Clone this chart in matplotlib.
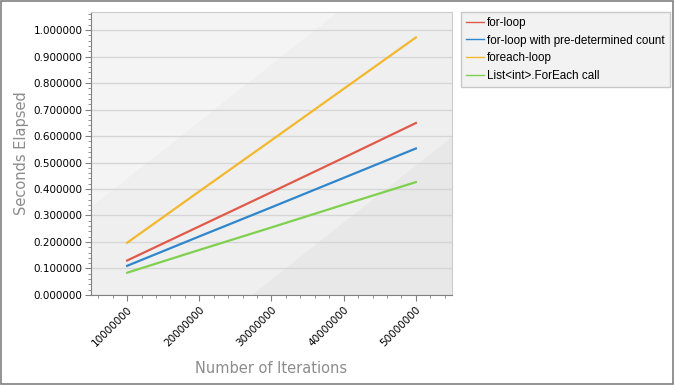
import numpy as np
import matplotlib.pyplot as plt
from matplotlib.ticker import MultipleLocator, FormatStrFormatter
from matplotlib.patches import Polygon, Rectangle

iterations = [10000000, 20000000, 30000000, 40000000, 50000000]
for_loop = [0.130, 0.259, 0.388, 0.518, 0.649]
for_loop_count = [0.110, 0.221, 0.331, 0.442, 0.553]
foreach_loop = [0.197, 0.391, 0.584, 0.778, 0.972]
list_foreach = [0.084, 0.170, 0.255, 0.341, 0.426]

series = [
    ('for-loop', for_loop, '#e05a4a'),
    ('for-loop with pre-determined count', for_loop_count, '#2f86cc'),
    ('foreach-loop', foreach_loop, '#f3b82e'),
    ('List<int>.ForEach call', list_foreach, '#7fd04f'),
]

plt.rcParams['font.family'] = ['DejaVu Sans']

fig = plt.figure(figsize=(6.75, 3.85), dpi=100)
fig.patch.set_facecolor('white')
# rahmen um das ganze bild
fig.patches.append(Rectangle((0.001, 0.002), 0.996, 0.995, transform=fig.transFigure,
                             fill=False, edgecolor='#808080', linewidth=1.2))

ax = fig.add_axes([0.1348, 0.2338, 0.5348, 0.735])
ax.set_facecolor('#efefef')

# hintergrund: hellere / dunklere diagonale flaechen
ax.add_patch(Polygon([(0, 1), (0, 0.31), (0.684, 1)], closed=True, transform=ax.transAxes,
                     facecolor='#f4f4f4', edgecolor='none', zorder=0))
ax.add_patch(Polygon([(0.446, 0), (1, 0), (1, 0.56)], closed=True, transform=ax.transAxes,
                     facecolor='#e8e8e8', edgecolor='none', zorder=0))

for label, vals, col in series:
    ax.plot(iterations, vals, color=col, linewidth=1.6, label=label, zorder=3)

ax.set_xlim(5000000, 55000000)
ax.set_ylim(0, 1.068)
ax.xaxis.set_major_locator(MultipleLocator(10000000))
ax.xaxis.set_minor_locator(MultipleLocator(2000000))
ax.yaxis.set_major_locator(MultipleLocator(0.1))
ax.yaxis.set_minor_locator(MultipleLocator(0.02))
ax.yaxis.set_major_formatter(FormatStrFormatter('%.6f'))
ax.xaxis.set_major_formatter(FormatStrFormatter('%d'))

ax.grid(axis='y', color='#d6d6d6', linewidth=1, zorder=1)
ax.set_axisbelow(True)

for s in ['left', 'bottom']:
    ax.spines[s].set_color('#808080')
for s in ['top', 'right']:
    ax.spines[s].set_color('#cccccc')

ax.tick_params(axis='both', which='major', length=4, color='#808080', labelcolor='black')
ax.tick_params(axis='y', which='major', labelsize=7.5, pad=2)
ax.tick_params(axis='x', which='major', labelsize=7.5, pad=3)
ax.tick_params(axis='both', which='minor', length=2, color='#808080')
plt.setp(ax.get_xticklabels(), rotation=45, ha='right', rotation_mode='anchor')

ax.set_xlabel('Number of Iterations', color='#8c8c8c', fontsize=10.5, labelpad=9)
ax.set_ylabel('Seconds Elapsed', color='#8c8c8c', fontsize=10.5, labelpad=3)

leg = ax.legend(loc='upper left', bbox_to_anchor=(1.025, 1.0), frameon=True,
                prop={'family': 'Liberation Sans', 'size': 8.4},
                fancybox=False, handlelength=1.6, handletextpad=0.25, borderpad=0.4,
                labelspacing=0.5, borderaxespad=0)
leg.get_frame().set_facecolor('#f2f2f2')
leg.get_frame().set_edgecolor('#c8c8c8')
leg.get_frame().set_linewidth(1)
leg.get_frame().set_alpha(1)
for h in leg.get_lines():
    h.set_linewidth(1)

fig.savefig('out.png', dpi=100)
